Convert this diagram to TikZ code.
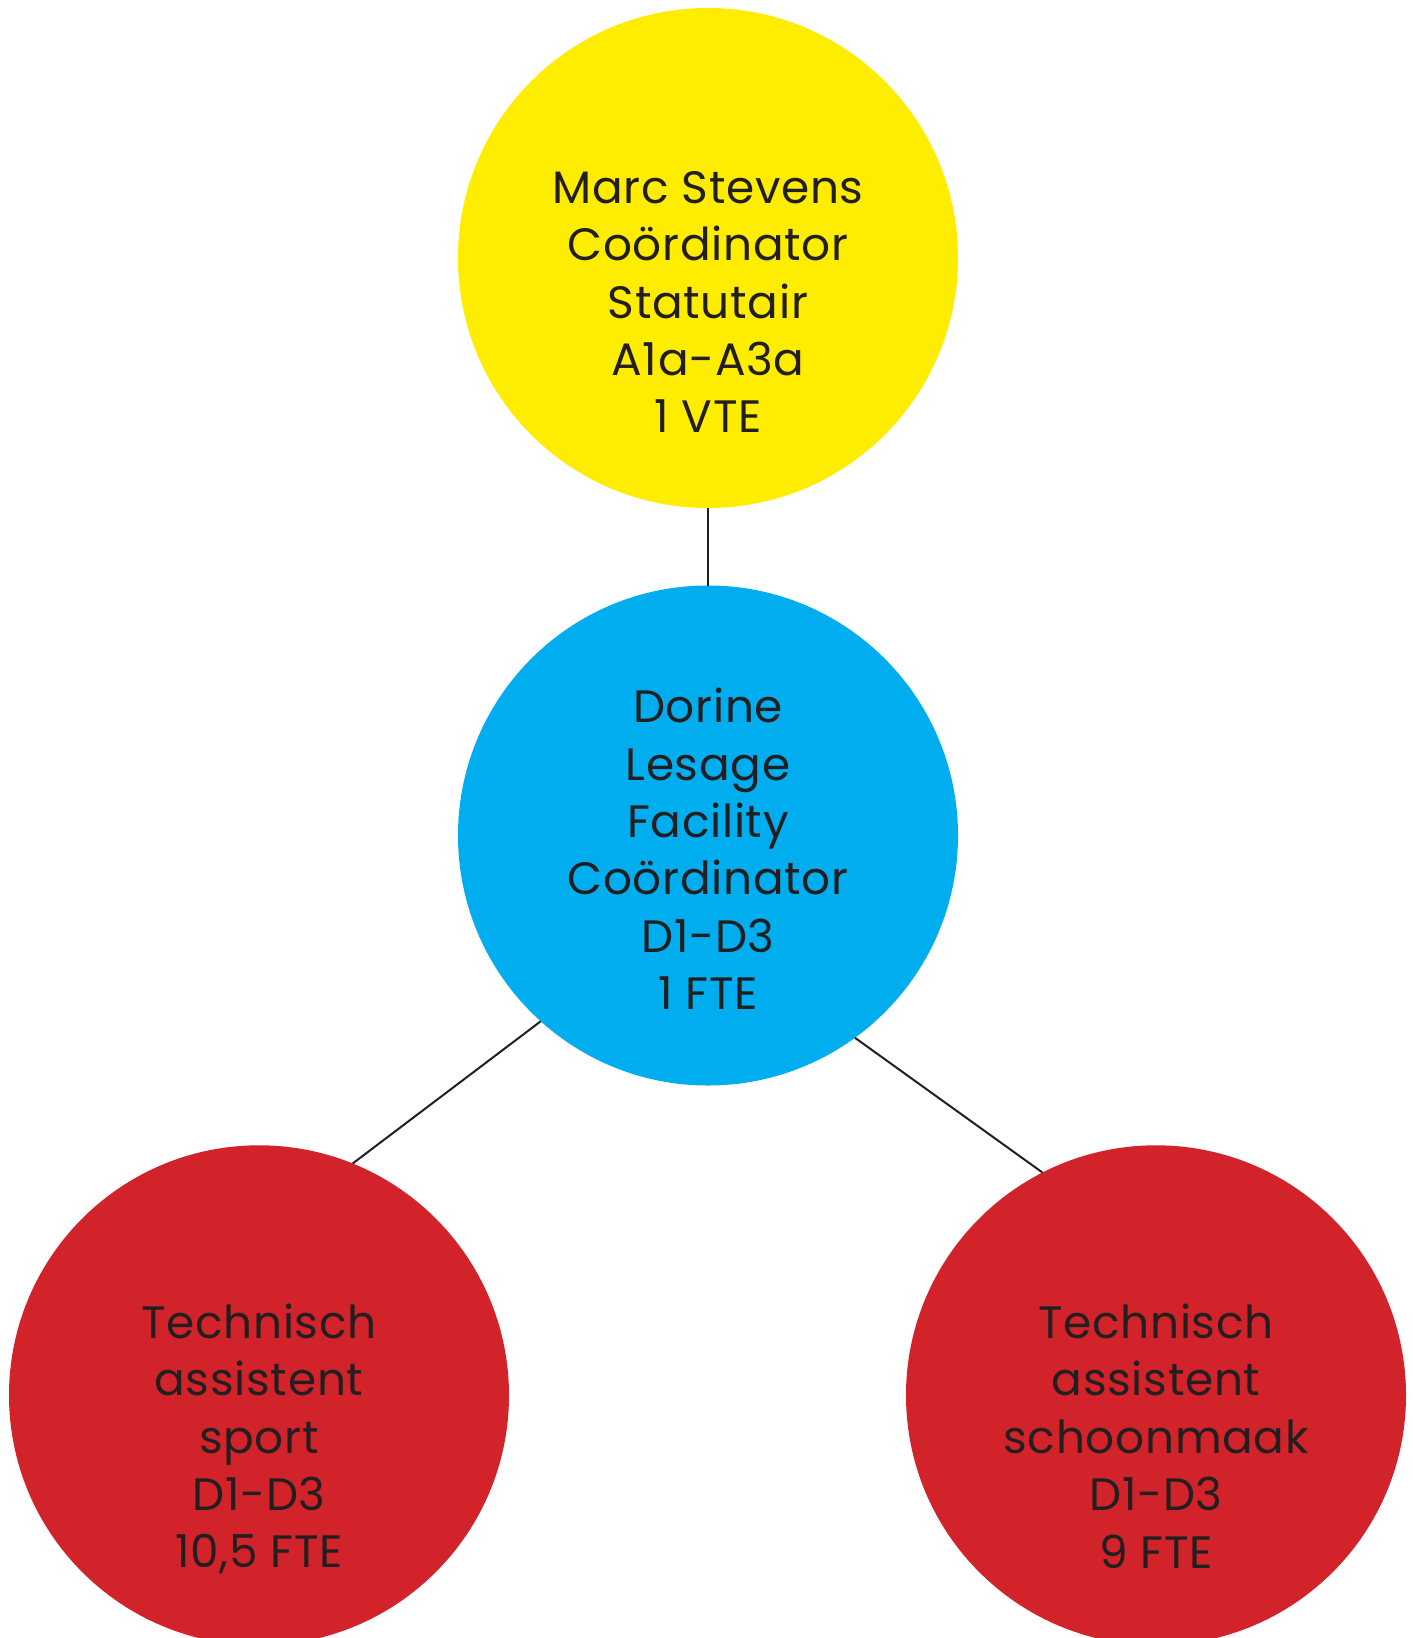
\documentclass[tikz,border=0pt]{standalone}
\usepackage{fontspec}
\setmainfont[LetterSpace=1.5]{Poppins}
\usepackage{tikz}
\definecolor{geel}{HTML}{FFED00}
\definecolor{blauw}{HTML}{00AEEF}
\definecolor{rood}{HTML}{D2232A}
\definecolor{donker}{HTML}{231F20}
\tikzset{
  bol/.style={circle, minimum size=250pt, inner sep=0pt, outer sep=0pt},
  tekst/.style={align=center, text=donker, inner sep=0pt,
    font=\fontsize{22.7}{28.7}\selectfont},
  lijn/.style={draw=donker, line width=1pt}
}

\begin{document}
\begin{tikzpicture}[x=0.5pt, y=-0.5pt]
    \clip (0,0) rectangle (1413,1638);
    \fill[white] (0,0) rectangle (1413,1638);
    \node[bol, fill=geel] (marc) at (708, 258) {};
    \node[bol, fill=blauw] (dorine) at (708, 835.5) {};
    \node[bol, fill=rood] (sport) at (259, 1395.3) {};
    \node[bol, fill=rood] (schoon) at (1156, 1395.3) {};
    \node[tekst] (marcTekst) at (708, 302) {Marc Stevens\\Coördinator\\Statutair\\A1a-A3a\\1 VTE};
    \node[tekst] (dorineTekst) at (708, 849) {Dorine\\Lesage\\Facility\\Coördinator\\D1-D3\\1 FTE};
    \node[tekst] (sportTekst) at (259, 1439) {Technisch\\assistent\\sport\\D1-D3\\10,5 FTE};
    \node[tekst] (schoonTekst) at (1156, 1436) {Technisch\\assistent\\schoonmaak\\D1-D3\\9 FTE};
    \draw[lijn] (marc.south) -- (dorine.north);
    \draw[lijn] (dorine.228.7) -- (sport.68.3);
    \draw[lijn] (dorine.306) -- (schoon.117.5);
\end{tikzpicture}
\end{document}
